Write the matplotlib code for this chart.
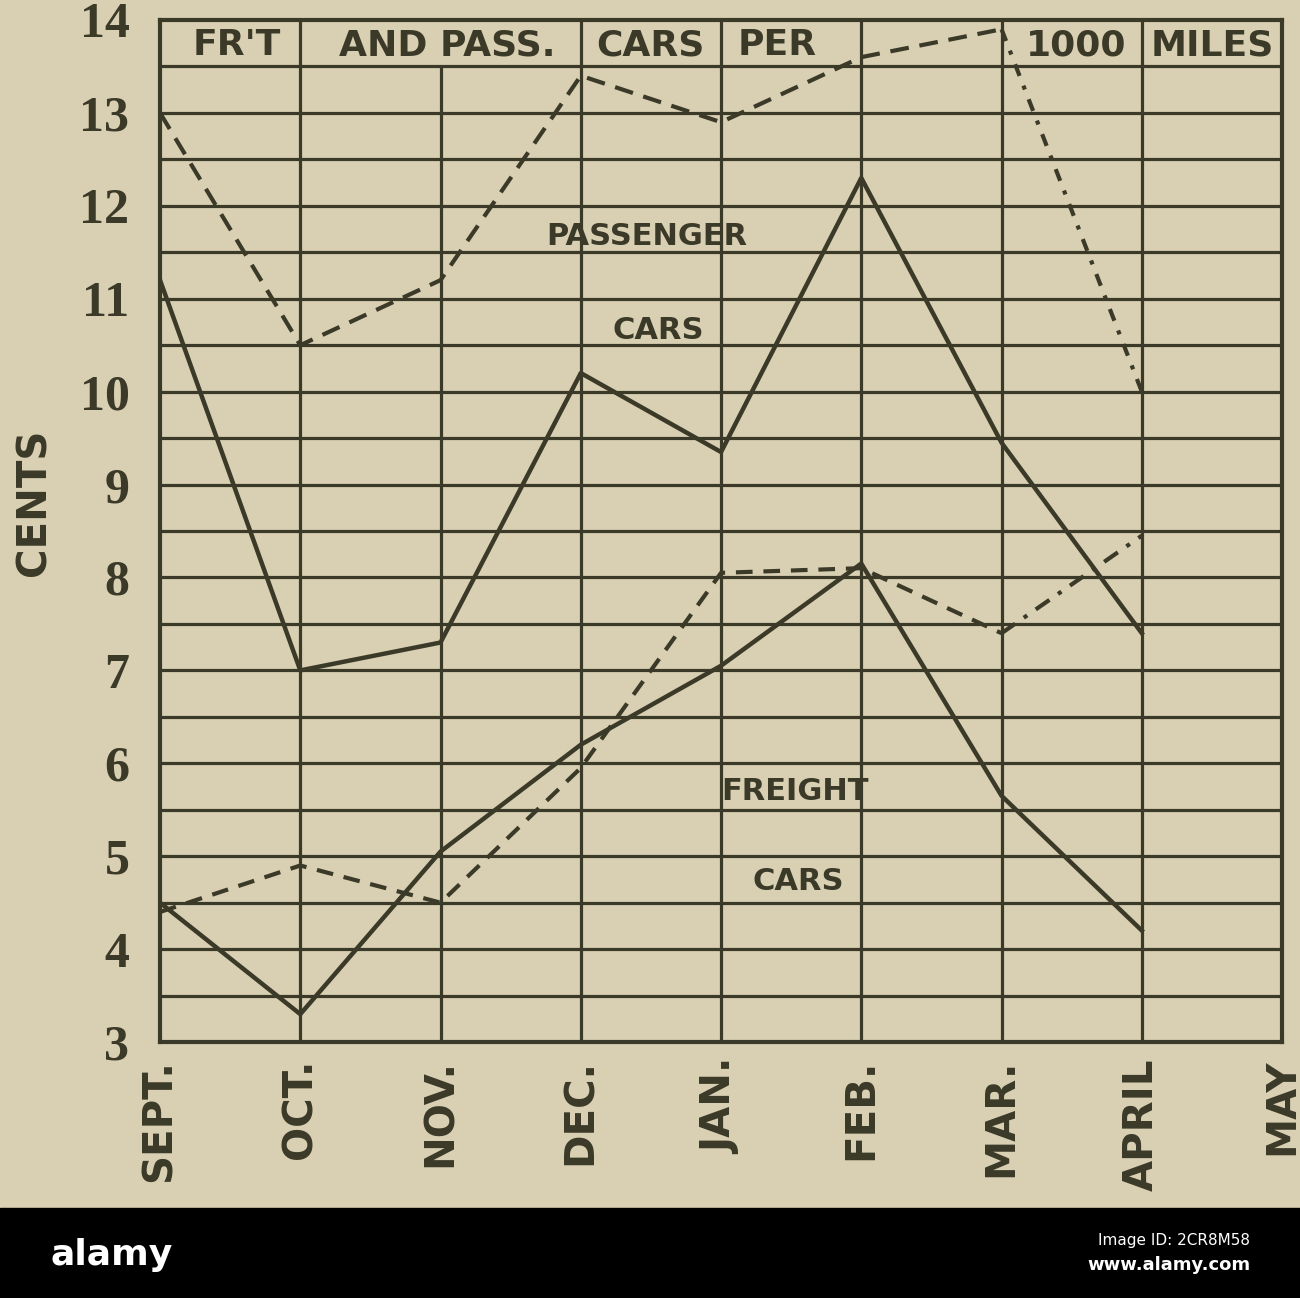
import matplotlib
matplotlib.use('Agg')
import matplotlib.pyplot as plt
from matplotlib.patches import Rectangle
import numpy as np

# freight and passenger car cost, cents per 1000 miles, SEPT..APRIL
months = ["SEPT.", "OCT.", "NOV.", "DEC.", "JAN.", "FEB.", "MAR.", "APRIL", "MAY"]
passenger_dashed = [13.0, 10.5, 11.2, 13.4, 12.9, 13.6, 13.9, 10.0]
passenger_solid = [11.2, 7.0, 7.3, 10.2, 9.35, 12.3, 9.45, 7.4]
freight_solid = [4.5, 3.3, 5.05, 6.2, 7.05, 8.15, 5.65, 4.2]
freight_dashed = [4.4, 4.9, 4.5, 5.95, 8.05, 8.1, 7.4, 8.45]
yticks = list(range(3, 15))
header_labels = ["FR'T", "AND PASS.", "CARS", "PER", "1000", "MILES"]

paper = '#d9d0b3'
ink = '#3b3927'

fig = plt.figure(figsize=(13, 12.98), dpi=100, facecolor=paper)
ax = fig.add_axes([0.1231, 0.1972, 0.8631, 0.7874])
ax.set_facecolor(paper)

x = np.arange(len(months))
xd = x[:len(passenger_solid)]

# ruled grid: half-cent lines, month columns (NOV column stops under the header)
ax.hlines(np.arange(3.5, 14, 0.5), 0, 8, color=ink, lw=2.3, zorder=1)
tops = [13.5 if m == "NOV." else 14 for m in months[1:8]]
ax.vlines(x[1:8], 3, tops, color=ink, lw=2.3, zorder=1)

# data lines
ax.plot(xd, passenger_solid, color=ink, lw=3.2, zorder=3)
ax.plot(xd, freight_solid, color=ink, lw=3.2, zorder=3)
ax.plot(xd[:7], passenger_dashed[:7], color=ink, lw=3.0, ls=(0, (4.5, 2.6)), zorder=3)
ax.plot(xd[6:], passenger_dashed[6:], color=ink, lw=3.0, ls=(0, (3, 2.5, 1, 2.5)), zorder=3)
ax.plot(xd[:7], freight_dashed[:7], color=ink, lw=3.0, ls=(0, (4, 2.6)), zorder=3)
ax.plot(xd[6:], freight_dashed[6:], color=ink, lw=3.0, ls=(0, (4, 2.5, 1, 2.5)), zorder=3)

# header row text
header_x = [0.55, 2.05, 3.5, 4.4, 6.53, 7.5]
for lab, hx in zip(header_labels, header_x):
    ax.text(hx, 13.73, lab, ha='center', va='center', fontsize=26,
            fontweight='bold', color=ink, family='DejaVu Sans', zorder=4)

lbl = dict(ha='center', va='center', fontsize=22, fontweight='bold',
           color=ink, family='DejaVu Sans', zorder=4)
ax.text(3.47, 11.67, "PASSENGER", **lbl)
ax.text(3.55, 10.66, "CARS", **lbl)
ax.text(4.53, 5.70, "FREIGHT", **lbl)
ax.text(4.55, 4.73, "CARS", **lbl)

ax.set_xlim(0, 8)
ax.set_ylim(3, 14)
for s in ax.spines.values():
    s.set_color(ink)
    s.set_linewidth(3)

ax.set_yticks(yticks)
ax.set_yticklabels([str(v) for v in yticks], family='Liberation Serif',
                   fontweight='bold', fontsize=36, color=ink)
ax.set_xticks(x)
ax.set_xticklabels(months, rotation=90, va='top', ha='center',
                   family='DejaVu Sans', fontweight='bold', fontsize=29, color=ink)
ax.tick_params(axis='y', length=0, pad=22)
ax.tick_params(axis='x', length=0, pad=12)

fig.text(35 / 1300, 1 - 502 / 1298, "CENTS", rotation=90, ha='center', va='center',
         fontsize=29, fontweight='bold', color=ink, family='DejaVu Sans')

# black footer strip
fig.add_artist(Rectangle((0, 0), 1, 90 / 1298, transform=fig.transFigure,
                         color='black', zorder=0))
fig.text(50 / 1300, 1 - 1255 / 1298, "alamy", color='white', fontsize=26,
         fontweight='bold', ha='left', va='center', family='DejaVu Sans')
fig.text(1250 / 1300, 1 - 1241 / 1298, "Image ID: 2CR8M58", color='white',
         fontsize=11, ha='right', va='center', family='DejaVu Sans')
fig.text(1250 / 1300, 1 - 1265 / 1298, "www.alamy.com", color='white',
         fontsize=13, fontweight='bold', ha='right', va='center', family='DejaVu Sans')

fig.savefig('out.png', dpi=100, facecolor=paper)
